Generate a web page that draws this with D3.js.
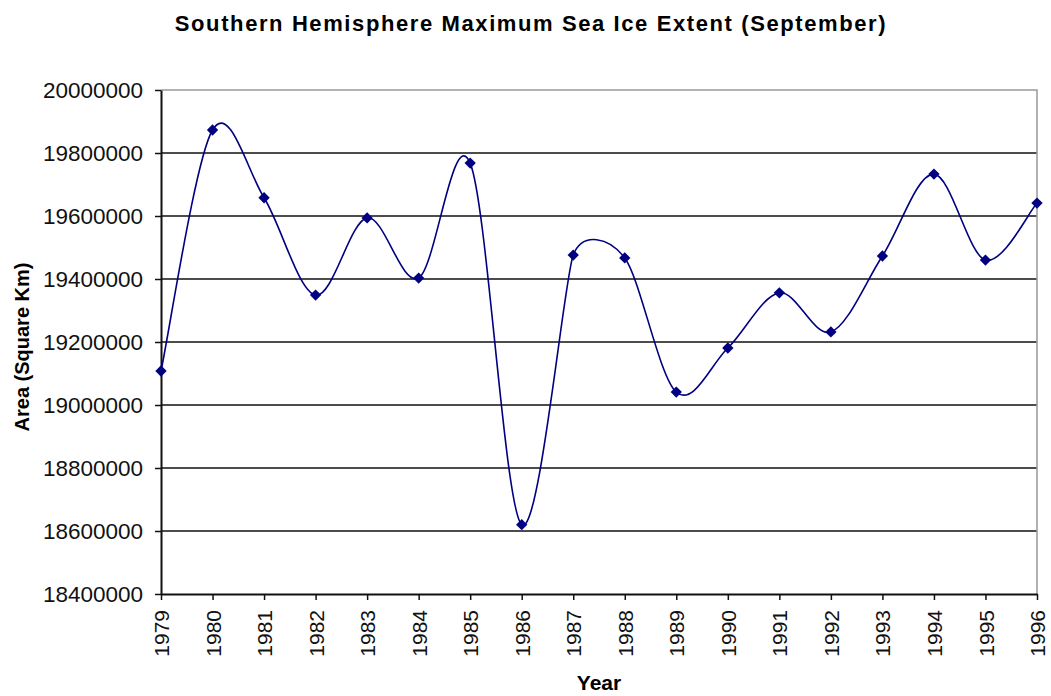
<!DOCTYPE html>
<html>
<head>
<meta charset="utf-8">
<script src="https://cdn.jsdelivr.net/npm/d3@7"></script>
<style>
  html, body { margin: 0; padding: 0; background: #fff; }
  svg { display: block; font-family: "Liberation Sans", Arial, sans-serif; }
</style>
</head>
<body>
<div id="chart"></div>
<script>
const years = [1979, 1980, 1981, 1982, 1983, 1984, 1985, 1986, 1987, 1988,
               1989, 1990, 1991, 1992, 1993, 1994, 1995, 1996];
const area = [19108000, 19873000, 19658000, 19349000, 19594000, 19403000, 19768000, 18620000, 19476000,
              19467000, 19041000, 19181000, 19356000, 19232000, 19473000, 19733000, 19460000, 19641000];
const yTicks = [18400000, 18600000, 18800000, 19000000, 19200000, 19400000, 19600000, 19800000, 20000000];

const W = 1051, H = 696;
const margin = { top: 90, right: 14, bottom: 102, left: 161 };
const width = W - margin.left - margin.right;
const height = H - margin.top - margin.bottom;
const lineColor = '#000080';

const svg = d3.select('#chart').append('svg')
  .attr('width', W)
  .attr('height', H);

const g = svg.append('g')
  .attr('transform', `translate(${margin.left},${margin.top})`);

const x = d3.scaleLinear().domain([years[0], years[years.length - 1]]).range([0, width]);
const y = d3.scaleLinear().domain([yTicks[0], yTicks[yTicks.length - 1]]).range([height, 0]);

// gridlines
g.append('g')
  .selectAll('line')
  .data(yTicks.slice(1, -1))
  .join('line')
    .attr('x1', 0).attr('x2', width)
    .attr('y1', d => y(d)).attr('y2', d => y(d))
    .attr('stroke', '#111')
    .attr('stroke-width', 1.5);

// top and right border (grey)
g.append('path')
  .attr('d', `M0,0H${width}V${height}`)
  .attr('fill', 'none')
  .attr('stroke', '#999')
  .attr('stroke-width', 1.5);

// Y axis
const yAxis = g.append('g')
  .call(d3.axisLeft(y).tickValues(yTicks).tickFormat(d3.format('d')).tickSize(6).tickSizeOuter(0).tickPadding(12));
yAxis.select('.domain').attr('stroke', '#111').attr('stroke-width', 2);
yAxis.selectAll('.tick line').attr('stroke', '#111').attr('stroke-width', 1.5);
yAxis.selectAll('text')
  .style('font-size', '22.5px')
  .attr('fill', '#111');

// X axis
const xAxis = g.append('g')
  .attr('transform', `translate(0,${height})`)
  .call(d3.axisBottom(x).tickValues(years).tickFormat(d3.format('d')).tickSize(6).tickSizeOuter(0));
xAxis.select('.domain').attr('stroke', '#111').attr('stroke-width', 2);
xAxis.selectAll('.tick line').attr('stroke', '#111').attr('stroke-width', 1.5);
xAxis.selectAll('text')
  .style('font-size', '21px')
  .attr('fill', '#111')
  .attr('transform', 'rotate(-90)')
  .attr('text-anchor', 'end')
  .attr('x', -16)
  .attr('y', 0)
  .attr('dy', '0.36em');

// Excel-style smoothed line: Bezier arms capped to half the shorter neighbour segment
function excelSmooth(p) {
  const path = d3.path();
  const dist = (a, b) => Math.hypot(b[0] - a[0], b[1] - a[1]);
  const ctrl = i => {
    const p0 = p[Math.max(i - 1, 0)], p1 = p[i], p2 = p[Math.min(i + 1, p.length - 1)];
    const d01 = dist(p0, p1), d12 = dist(p1, p2), d02 = dist(p0, p2);
    let f = 1 / 6;
    if (d01 > 0 && d12 > 0 && !(d02 / 6 < d01 / 2 && d02 / 6 < d12 / 2)) f = Math.min(d01, d12) / (2 * d02);
    const tx = (p2[0] - p0[0]) * f, ty = (p2[1] - p0[1]) * f;
    return { before: [p1[0] - tx, p1[1] - ty], after: [p1[0] + tx, p1[1] + ty] };
  };
  const c = p.map((_, i) => ctrl(i));
  path.moveTo(p[0][0], p[0][1]);
  for (let i = 1; i < p.length; i++) {
    path.bezierCurveTo(c[i - 1].after[0], c[i - 1].after[1], c[i].before[0], c[i].before[1], p[i][0], p[i][1]);
  }
  return path.toString();
}

const pts = years.map((yr, i) => [yr, area[i]]);
g.append('path')
  .attr('fill', 'none')
  .attr('stroke', lineColor)
  .attr('stroke-width', 1.6)
  .attr('d', excelSmooth(pts.map(d => [x(d[0]), y(d[1])])));

// markers
g.append('g')
  .selectAll('path')
  .data(pts)
  .join('path')
    .attr('transform', d => `translate(${x(d[0])},${y(d[1])}) rotate(45)`)
    .attr('d', d3.symbol().type(d3.symbolSquare).size(64))
    .attr('fill', lineColor);

// title
svg.append('text')
  .attr('x', 531)
  .attr('y', 31)
  .attr('text-anchor', 'middle')
  .style('font-size', '22px')
  .style('font-weight', 'bold')
  .style('letter-spacing', '1.6px')
  .text('Southern Hemisphere Maximum Sea Ice Extent (September)');

// axis titles
svg.append('text')
  .attr('x', margin.left + width / 2)
  .attr('y', 690)
  .attr('text-anchor', 'middle')
  .style('font-size', '21px')
  .style('font-weight', 'bold')
  .text('Year');

svg.append('text')
  .attr('transform', `translate(29,${margin.top + height / 2 + 5}) rotate(-90)`)
  .attr('text-anchor', 'middle')
  .style('font-size', '20px')
  .style('font-weight', 'bold')
  .text('Area (Square Km)');
</script>
</body>
</html>
